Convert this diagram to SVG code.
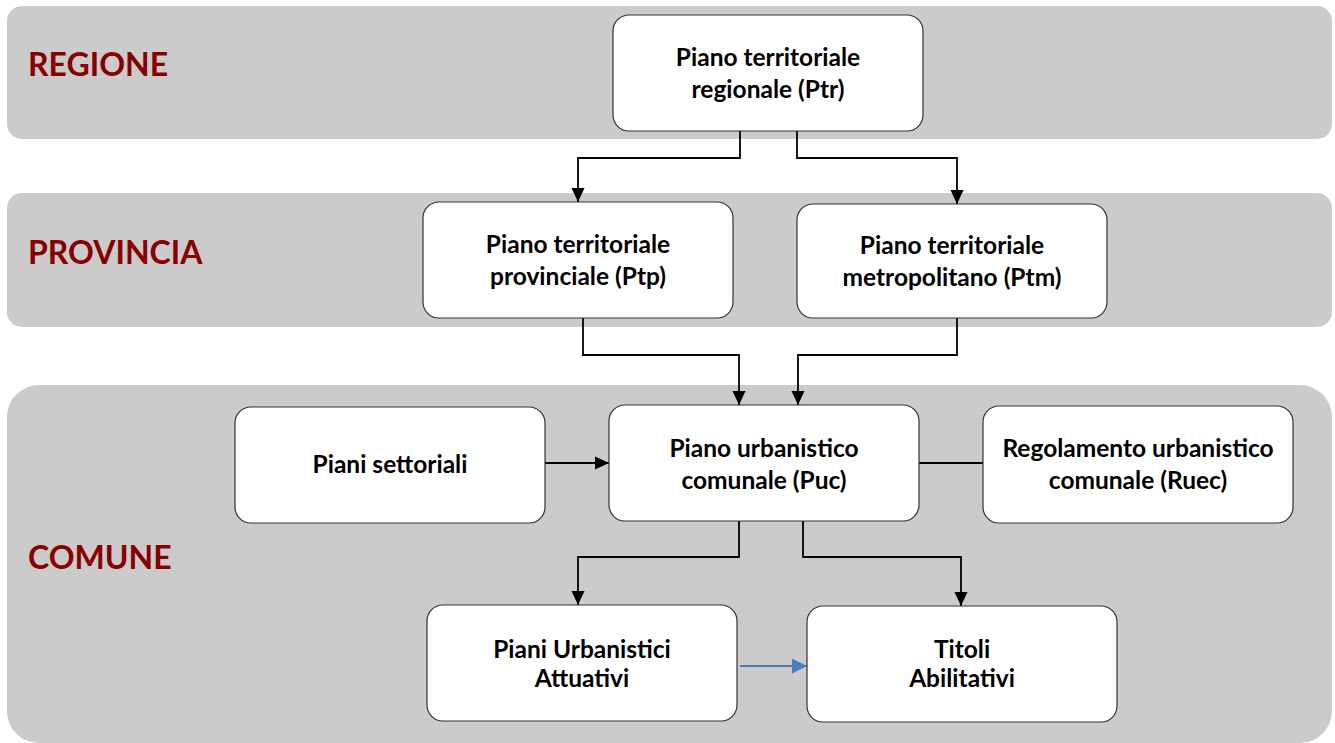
<svg xmlns="http://www.w3.org/2000/svg" width="1335" height="743" viewBox="0 0 1335 743">
<defs>
<marker id="ah" markerWidth="14" markerHeight="14" refX="14" refY="7" orient="auto" markerUnits="userSpaceOnUse" viewBox="0 0 14 14"><path d="M0,0.5 L14,7 L0,13.5 z" fill="#000"/></marker>
<marker id="ahb" markerWidth="15" markerHeight="15" refX="15" refY="7.5" orient="auto" markerUnits="userSpaceOnUse" viewBox="0 0 15 15"><path d="M0,0 L15,7.5 L0,15 z" fill="#4a7ebb"/></marker>
<style>
.band{fill:#cbcbcb}
.lvl{font-family:Lato,"Liberation Sans",sans-serif;font-weight:bold;font-size:32px;fill:#880000}
.box{fill:#fff;stroke:#333;stroke-width:1.2}
.t{font-family:Lato,"Liberation Sans",sans-serif;font-weight:bold;font-size:24.5px;fill:#000;text-anchor:middle}
.c{fill:none;stroke:#000;stroke-width:1.8}
</style>
</defs>
<g id="bands">
<rect class="band" x="7" y="6" width="1325" height="133" rx="15"/>
<rect class="band" x="7" y="193" width="1325" height="134" rx="15"/>
<rect class="band" x="7" y="385" width="1325" height="358" rx="32"/>
<text class="lvl" x="28" y="76">REGIONE</text>
<text class="lvl" x="28" y="264">PROVINCIA</text>
<text class="lvl" x="28" y="569">COMUNE</text>
</g>
<g id="connectors">
<path class="c" d="M740,131 V158 H578 V202" marker-end="url(#ah)"/>
<path class="c" d="M797,131 V158 H957 V204" marker-end="url(#ah)"/>
<path class="c" d="M583,318 V355 H739 V405" marker-end="url(#ah)"/>
<path class="c" d="M957,318 V355 H798 V405" marker-end="url(#ah)"/>
<path class="c" d="M545,463 H609" marker-end="url(#ah)"/>
<path class="c" d="M919,463 H983"/>
<path class="c" d="M739,521 V557 H578 V605" marker-end="url(#ah)"/>
<path class="c" d="M803,521 V557 H961 V606" marker-end="url(#ah)"/>
<path fill="none" stroke="#4a7ebb" stroke-width="1.8" d="M740,666 H807" marker-end="url(#ahb)"/>
</g>
<g id="ptr"><rect class="box" x="613" y="15" width="310" height="116" rx="16"/>
<text class="t" x="768" y="66">Piano territoriale</text><text class="t" x="768" y="98">regionale (Ptr)</text></g>
<g id="ptp"><rect class="box" x="423" y="202" width="310" height="116" rx="16"/>
<text class="t" x="578" y="253">Piano territoriale</text><text class="t" x="578" y="285">provinciale (Ptp)</text></g>
<g id="ptm"><rect class="box" x="797" y="204" width="310" height="114" rx="16"/>
<text class="t" x="952" y="254">Piano territoriale</text><text class="t" x="952" y="286">metropolitano (Ptm)</text></g>
<g id="settoriali"><rect class="box" x="235" y="407" width="310" height="116" rx="16"/>
<text class="t" x="390" y="473">Piani settoriali</text></g>
<g id="puc"><rect class="box" x="609" y="405" width="310" height="116" rx="16"/>
<text class="t" x="764" y="457">Piano urbanistico</text><text class="t" x="764" y="489">comunale (Puc)</text></g>
<g id="ruec"><rect class="box" x="983" y="406" width="310" height="117" rx="16"/>
<text class="t" x="1138" y="457">Regolamento urbanistico</text><text class="t" x="1138" y="489">comunale (Ruec)</text></g>
<g id="pua"><rect class="box" x="427" y="605" width="310" height="116" rx="16"/>
<text class="t" x="582" y="658">Piani Urbanistici</text><text class="t" x="582" y="687">Attuativi</text></g>
<g id="titoli"><rect class="box" x="807" y="606" width="310" height="116" rx="16"/>
<text class="t" x="962" y="658">Titoli</text><text class="t" x="962" y="687">Abilitativi</text></g>
</svg>
